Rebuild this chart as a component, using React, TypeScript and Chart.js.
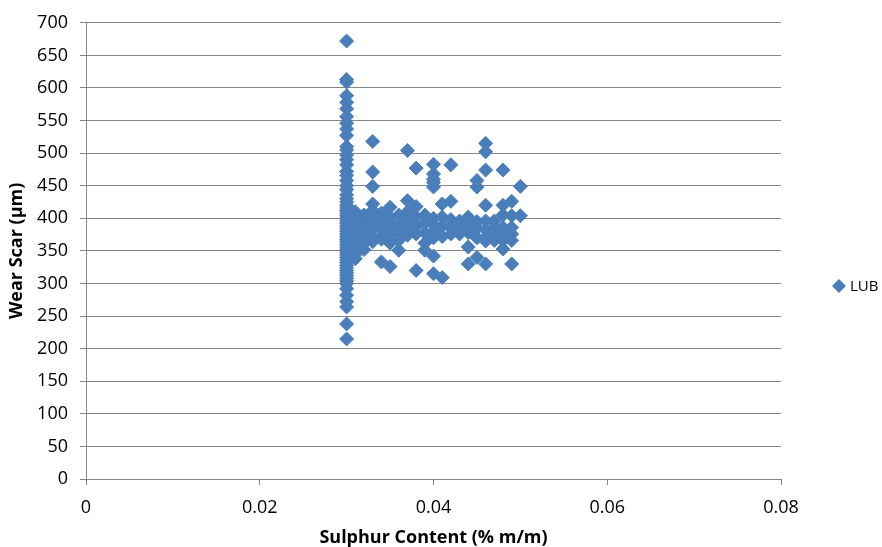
import React, { useEffect, useRef } from "react";
import { Chart, registerables } from "chart.js";

Chart.register(...registerables);

// ---- Data (Sulphur Content % m/m vs Wear Scar µm) ----
const sulphurLevels = [0.030, 0.031, 0.032, 0.033, 0.034, 0.035, 0.036, 0.037, 0.038, 0.039, 0.040, 0.041, 0.042, 0.043, 0.044, 0.045, 0.046, 0.047, 0.048, 0.049, 0.050];

const wearAt030 = [672, 613, 609, 588, 578, 568, 556, 546, 537, 527, 510, 505, 497, 490, 482, 472, 466, 458, 450, 444, 436, 430, 425, 420, 416, 412, 408, 404, 400, 396, 392, 388, 384, 380, 376, 372, 368, 364, 360, 356, 352, 348, 344, 340, 336, 332, 328, 324, 320, 316, 312, 308, 304, 300, 292, 282, 272, 264, 238, 215];
const wearAt031 = [410, 398, 385, 372, 360, 345, 338];
const wearAt032 = [405, 392, 380, 368, 362, 352];
const wearAt033 = [518, 471, 449, 422, 412, 400, 386, 372, 364];
const wearAt034 = [408, 395, 382, 368, 333];
const wearAt035 = [417, 402, 390, 376, 362, 326];
const wearAt036 = [405, 392, 380, 366, 351];
const wearAt037 = [504, 427, 410, 396, 385, 374];
const wearAt038 = [477, 418, 402, 388, 376, 320];
const wearAt039 = [405, 392, 378, 362, 351];
const wearAt040 = [483, 468, 460, 455, 448, 400, 390, 380, 370, 342, 315];
const wearAt041 = [422, 402, 388, 372, 309];
const wearAt042 = [482, 426, 398, 386, 376];
const wearAt043 = [396, 386, 376];
const wearAt044 = [402, 392, 378, 356, 330];
const wearAt045 = [458, 448, 395, 385, 370, 340];
const wearAt046 = [515, 502, 474, 420, 396, 382, 370, 365, 330];
const wearAt047 = [396, 386, 376, 366];
const wearAt048 = [474, 420, 405, 386, 376, 366, 353];
const wearAt049 = [426, 404, 386, 376, 366, 330];
const wearAt050 = [449, 404];

const wearByLevel = [wearAt030, wearAt031, wearAt032, wearAt033, wearAt034, wearAt035, wearAt036, wearAt037, wearAt038, wearAt039, wearAt040, wearAt041, wearAt042, wearAt043, wearAt044, wearAt045, wearAt046, wearAt047, wearAt048, wearAt049, wearAt050];

const seriesName = "LUB";
const xTitle = "Sulphur Content (% m/m)";
const yTitle = "Wear Scar (µm)";

const MARKER = "#4A7EBB";
const GRID = "#868686";
const FONT = "'Open Sans', sans-serif";

const legendPlugin = {
  id: "customLegend",
  afterDraw(chart: any) {
    const { ctx } = chart;
    const x = 839;
    const y = 286;
    const r = 7;
    ctx.save();
    ctx.fillStyle = MARKER;
    ctx.beginPath();
    ctx.moveTo(x - r, y);
    ctx.lineTo(x, y - r);
    ctx.lineTo(x + r, y);
    ctx.lineTo(x, y + r);
    ctx.closePath();
    ctx.fill();
    ctx.fillStyle = "#000";
    ctx.font = `15px ${FONT}`;
    ctx.textAlign = "left";
    ctx.textBaseline = "middle";
    ctx.fillText(seriesName, 850, y + 1);
    ctx.restore();
  },
};

export default function App() {
  const ref = useRef<HTMLCanvasElement | null>(null);

  useEffect(() => {
    if (!ref.current) return;
    const points: { x: number; y: number }[] = [];
    sulphurLevels.forEach((s, i) => {
      wearByLevel[i].forEach((w) => points.push({ x: s, y: w }));
    });

    const chart = new Chart(ref.current, {
      type: "scatter",
      data: {
        datasets: [
          {
            label: seriesName,
            data: points,
            pointStyle: "rectRot",
            pointRadius: 7,
            pointHoverRadius: 7,
            backgroundColor: MARKER,
            borderColor: MARKER,
            borderWidth: 1,
          },
        ],
      },
      options: {
        animation: false,
        responsive: false,
        maintainAspectRatio: false,
        layout: { padding: { left: 0, right: 101, top: 22, bottom: 0 } },
        plugins: {
          legend: { display: false },
          tooltip: { enabled: false },
        },
        scales: {
          x: {
            type: "linear",
            min: 0,
            max: 0.08,
            ticks: {
              stepSize: 0.02,
              color: "#000",
              font: { family: FONT, size: 18 },
              padding: 12,
              callback: (v: any) => String(Number(v).toFixed(2)).replace(/^0\.00$/, "0"),
            },
            grid: { drawOnChartArea: false, drawTicks: true, tickLength: 6, color: GRID },
            border: { display: true, color: GRID },
            title: {
              display: true,
              text: xTitle,
              color: "#000",
              font: { family: FONT, size: 18, weight: "bold", lineHeight: 1.0 },
              padding: { top: 0, bottom: 0 },
            },
            afterFit: (scale: any) => {
              scale.height = 68;
            },
          },
          y: {
            type: "linear",
            min: 0,
            max: 700,
            ticks: {
              stepSize: 50,
              color: "#000",
              font: { family: FONT, size: 18 },
              padding: 12,
            },
            grid: { drawOnChartArea: true, drawTicks: true, tickLength: 6, color: GRID },
            border: { display: true, color: GRID },
            title: {
              display: true,
              text: yTitle,
              color: "#000",
              font: { family: FONT, size: 18, weight: "bold" },
              padding: { top: 6, bottom: 0 },
            },
            afterFit: (scale: any) => {
              scale.width = 86;
            },
          },
        },
      },
      plugins: [legendPlugin],
    });
    return () => chart.destroy();
  }, []);

  return (
    <div style={{ position: "absolute", left: 0, top: 0, width: 882, height: 547, background: "#fff" }}>
      <canvas ref={ref} width={882} height={547} style={{ display: "block", width: 882, height: 547 }} />
    </div>
  );
}
